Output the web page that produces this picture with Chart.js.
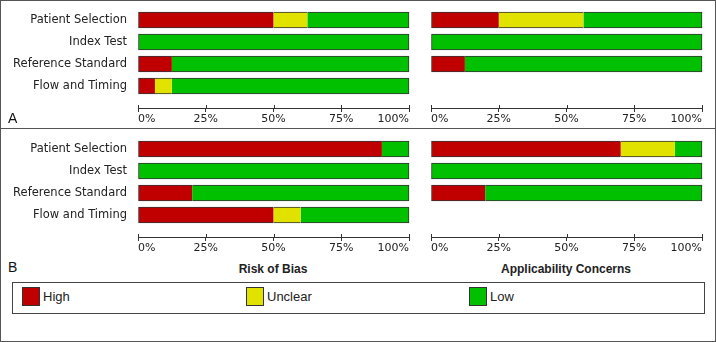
<!DOCTYPE html>
<html>
<head>
<meta charset="utf-8">
<script src="https://cdn.jsdelivr.net/npm/chart.js@4.4.1/dist/chart.umd.min.js"></script>
<style>
  body { margin: 0; background: #fff; }
  #frame { position: relative; width: 716px; height: 342px; overflow: hidden; background: #fff; }
  #frame canvas { position: absolute; }
  .edge { position: absolute; left: 0; top: 0; width: 716px; height: 342px; box-sizing: border-box; border: 1px solid #555; pointer-events: none; }
  .divider { position: absolute; left: 0; top: 128px; width: 716px; height: 1px; background: #555; }
  .panel { position: absolute; left: 8px; font: 14px "Liberation Sans", Arial, sans-serif; color: #111; line-height: 14px; }
  .title { position: absolute; top: 262px; font: bold 12px "Liberation Sans", Arial, sans-serif; color: #222; line-height: 14px; text-align: center; width: 200px; }
  #legend { position: absolute; left: 12px; top: 282px; width: 693px; height: 32px; box-sizing: border-box; border: 1px solid #444; }
  .item { position: absolute; top: 4px; font: 13px "Liberation Sans", Arial, sans-serif; color: #222; line-height: 19px; }
  .item span { display: inline-block; width: 18px; height: 19px; box-sizing: border-box; border: 1px solid #333; vertical-align: top; margin-right: 3px; }
</style>
</head>
<body>
<div id="frame">
  <canvas id="aBias" width="420" height="128" style="left:0;top:0"></canvas>
  <canvas id="aAppl" width="296" height="128" style="left:420px;top:0"></canvas>
  <canvas id="bBias" width="420" height="128" style="left:0;top:129px"></canvas>
  <canvas id="bAppl" width="296" height="128" style="left:420px;top:129px"></canvas>
  <div class="divider"></div>
  <div class="panel" style="top:111px">A</div>
  <div class="panel" style="top:260px">B</div>
  <div class="title" style="left:173px">Risk of Bias</div>
  <div class="title" style="left:466px">Applicability Concerns</div>
  <div id="legend"></div>
  <div class="edge"></div>
</div>
<script>
const domains = ["Patient Selection", "Index Test", "Reference Standard", "Flow and Timing"];
const judgements = ["High", "Unclear", "Low"];
const judgementColors = ["#c00000", "#e2e200", "#00c000"];
const xTicks = [0, 25, 50, 75, 100];

// panel A (percent of studies)
const aBiasHigh = [50, 0, 12.5, 6.25];
const aBiasUnclear = [12.5, 0, 0, 6.25];
const aBiasLow = [37.5, 100, 87.5, 87.5];
const aApplHigh = [25, 0, 12.5];
const aApplUnclear = [31.25, 0, 0];
const aApplLow = [43.75, 100, 87.5];

// panel B
const bBiasHigh = [90, 0, 20, 50];
const bBiasUnclear = [0, 0, 0, 10];
const bBiasLow = [10, 100, 80, 40];
const bApplHigh = [70, 0, 20];
const bApplUnclear = [20, 0, 0];
const bApplLow = [10, 100, 80];

const AXIS = "#333";
const TEXT = "#222";

// only outer edges of a stacked row get a border
function segmentBorder(ctx) {
  const ds = ctx.chart.data.datasets;
  const i = ctx.dataIndex;
  if (!ds[ctx.datasetIndex].data[i]) return 0;
  const before = ds.slice(0, ctx.datasetIndex).some(d => d.data[i] > 0);
  const after = ds.slice(ctx.datasetIndex + 1).some(d => d.data[i] > 0);
  return { top: 1, bottom: 1, left: before ? 0 : 1, right: after ? 0 : 1 };
}

// axis ticks in the original poke a little above the line too
const upTicks = {
  id: "upTicks",
  afterDraw(chart) {
    const x = chart.scales.x;
    const c = chart.ctx;
    c.save();
    c.strokeStyle = AXIS;
    c.lineWidth = 1;
    x.ticks.forEach(t => {
      const px = Math.round(x.getPixelForValue(t.value)) + 0.5;
      c.beginPath();
      c.moveTo(px, x.top - 3);
      c.lineTo(px, x.top);
      c.stroke();
    });
    c.restore();
  }
};

function makeChart(id, series, showLabels) {
  const datasets = series.map((data, k) => ({
    label: judgements[k],
    // zero shares would still leave a hairline, so skip them
    data: data.map(v => (v > 0 ? v : null)),
    backgroundColor: judgementColors[k],
    borderColor: AXIS,
    borderWidth: segmentBorder,
    borderSkipped: false,
    barThickness: 16,
    clip: false
  }));
  return new Chart(document.getElementById(id), {
    type: "bar",
    data: { labels: domains.concat([""]), datasets },
    plugins: [upTicks],
    options: {
      indexAxis: "y",
      responsive: false,
      animation: false,
      devicePixelRatio: 1,
      layout: { padding: { top: 20, right: showLabels ? 11 : 14, left: 0, bottom: 0 } },
      plugins: { legend: { display: false }, tooltip: { enabled: false } },
      scales: {
        x: {
          stacked: true,
          min: 0,
          max: 100,
          afterBuildTicks: s => { s.ticks = xTicks.map(v => ({ value: v })); },
          afterFit: s => { s.height = 20; },
          ticks: {
            align: "inner",
            padding: 1,
            maxRotation: 0,
            autoSkip: false,
            color: TEXT,
            font: { family: "DejaVu Sans", size: 11 },
            callback: v => v + "%"
          },
          grid: { drawOnChartArea: false, drawTicks: true, tickLength: 4, color: AXIS },
          border: { display: true, color: AXIS }
        },
        y: {
          stacked: true,
          offset: false,
          afterFit: s => { s.width = showLabels ? 138 : 11; },
          ticks: {
            display: showLabels,
            padding: 11,
            color: TEXT,
            font: { family: "DejaVu Sans", size: 11.5 }
          },
          grid: { display: false, drawTicks: false },
          border: { display: false }
        }
      }
    }
  });
}

makeChart("aBias", [aBiasHigh, aBiasUnclear, aBiasLow], true);
makeChart("aAppl", [aApplHigh, aApplUnclear, aApplLow], false);
makeChart("bBias", [bBiasHigh, bBiasUnclear, bBiasLow], true);
makeChart("bAppl", [bApplHigh, bApplUnclear, bApplLow], false);

const legendLeft = [22, 246, 469];
const legend = document.getElementById("legend");
judgements.forEach((name, k) => {
  const item = document.createElement("div");
  item.className = "item";
  item.style.left = (legendLeft[k] - 13) + "px";
  item.innerHTML = `<span style="background:${judgementColors[k]}"></span>${name}`;
  legend.appendChild(item);
});
</script>
</body>
</html>
